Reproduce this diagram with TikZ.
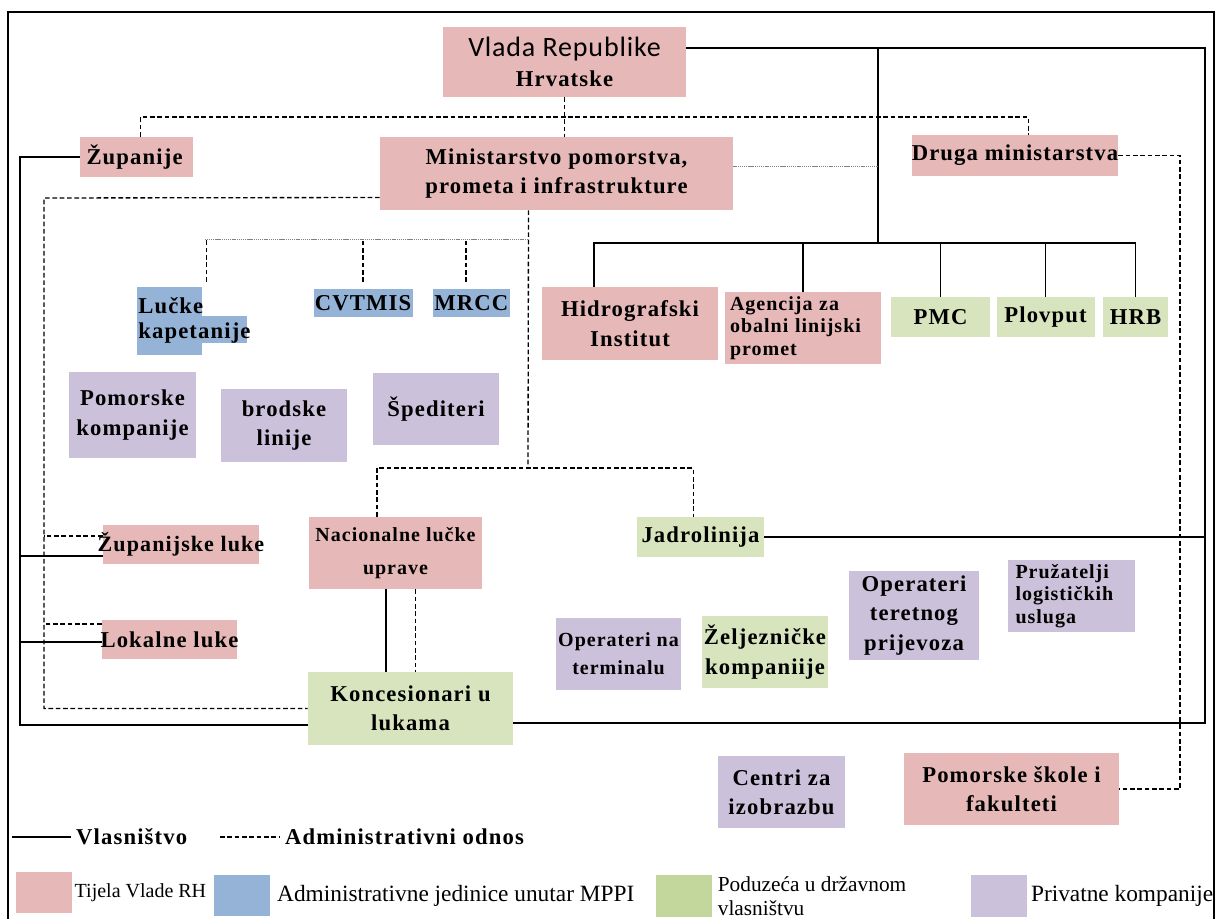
\documentclass[tikz,border=0pt]{standalone}
\usepackage{fontspec}
\setmainfont{Liberation Serif}[BoldFeatures={LetterSpace=5}]
\newfontfamily\vladaFont{Carlito}[LetterSpace=3]
\usetikzlibrary{positioning}

\definecolor{govPink}{HTML}{E6B9B8}
\definecolor{unitBlue}{HTML}{95B3D7}
\definecolor{stateGreen}{HTML}{D7E4BD}
\definecolor{legendGreen}{HTML}{C3D69B}
\definecolor{privatePurple}{HTML}{CCC1DA}

\begin{document}
\begin{tikzpicture}[x=0.75pt, y=-0.75pt, node distance = 4pt]
            % Set primary nodes
            \tikzset{
                boxSize/.style 2 args={
                        minimum width=#1*0.75pt,
                        minimum height=#2*0.75pt
                    }
            }
            \tikzset{
                govNode/.style={
                        rectangle,
                        fill=govPink,
                        inner sep=1pt,
                        align=center,
                        font=\fontsize{17}{22}\selectfont\bfseries
                    }
            }
            \tikzset{
                unitNode/.style={
                        rectangle,
                        fill=unitBlue,
                        inner sep=1pt,
                        align=center,
                        font=\fontsize{17}{22}\selectfont\bfseries
                    }
            }
            \tikzset{
                stateNode/.style={
                        rectangle,
                        fill=stateGreen,
                        inner sep=1pt,
                        align=center,
                        font=\fontsize{17}{22}\selectfont\bfseries
                    }
            }
            \tikzset{
                privateNode/.style={
                        rectangle,
                        fill=privatePurple,
                        inner sep=1pt,
                        align=center,
                        font=\fontsize{17}{22}\selectfont\bfseries
                    }
            }
            \tikzset{
                narrowText/.style={
                        font=\fontsize{15}{17}\selectfont\bfseries
                    }
            }
            \tikzset{
                legendNode/.style={
                        rectangle,
                        minimum width=42pt,
                        minimum height=31pt
                    }
            }
            \tikzset{
                legendText/.style={
                        inner sep=0pt,
                        align=left,
                        font=\fontsize{17.5}{18}\selectfont
                    }
            }
            % Configure lines
            \tikzstyle{ownLine} = [line width=1.2pt]
            \tikzstyle{adminLine} = [line width=1pt, dash pattern=on 3.5pt off 2pt]
            \tikzstyle{dotLine} = [line width=0.6pt, gray, dash pattern=on 1pt off 0.6pt]
            \useasboundingbox (0,0) rectangle (1219,919);
            \draw[line width=1.3pt] (8,12) rectangle (1214,935);
            % Placing nodes
            \node[govNode, boxSize={243}{70}](vlada) at (564.5,62){{\fontsize{21}{22}\selectfont\vladaFont\mdseries Vlada Republike}\\Hrvatske};
            \node[govNode, boxSize={113}{40}, text width=100*0.75pt, align=left](zupanije) at (136.5,157){Županije};
            \node[govNode, boxSize={353}{73}](mppi) at (556.5,173.5){Ministarstvo pomorstva,\\prometa i infrastrukture};
            \node[govNode, boxSize={206}{41}, inner xsep=-2pt](druga) at (1015,155.5){Druga ministarstva};
            \node[unitNode, boxSize={65}{68}](lucke) at (169.5,321){};
            \fill[unitBlue] ([yshift=3.75pt]lucke.east) rectangle ++(45,27);
            \node[anchor=north west, inner sep=0pt, align=left, font=\fontsize{17}{19}\selectfont\bfseries](luckeText) at ([xshift=1pt,yshift=-8pt]lucke.north west){Lučke\\kapetanije};
            \node[unitNode, boxSize={96}{28}](cvtmis) at (363,303){CVTMIS};
            \node[unitNode, boxSize={75}{28}, right = 15pt of cvtmis](mrcc){MRCC};
            \node[privateNode, boxSize={127}{86}](pomKomp) at (132.5,415){Pomorske\\kompanije};
            \node[privateNode, boxSize={126}{73}](brodske) at (284,425.5){brodske\\linije};
            \node[privateNode, boxSize={126}{72}](spediteri) at (436,409){Špediteri};
            \node[govNode, boxSize={176}{73}](hidro) at (630,323.5){Hidrografski\\Institut};
            \node[govNode, narrowText, boxSize={156}{72}, text width=146*0.75pt, align=left](agencija) at (803,328){Agencija za\\obalni linijski\\promet};
            \node[stateNode, boxSize={99}{40}](pmc) at (940.5,317){PMC};
            \node[stateNode, boxSize={98}{40}, right = 4.5pt of pmc](plovput){Plovput};
            \node[stateNode, boxSize={65}{40}, right = 6pt of plovput](hrb){HRB};
            \node[govNode, boxSize={156}{39}, inner xsep=-4pt, font=\fontsize{16.5}{22}\selectfont\bfseries](zupLuke) at (181,544.5){Županijske luke};
            \node[govNode, boxSize={135}{39}, inner xsep=-2pt](lokLuke) at (169.5,639.5){Lokalne luke};
            \node[govNode, narrowText, boxSize={173}{72}](nacionalne) at (395.5,553){Nacionalne lučke\\[8pt]uprave};
            \node[stateNode, boxSize={205}{73}](koncesionari) at (410.5,708.5){Koncesionari u\\lukama};
            \node[stateNode, boxSize={127}{40}](jadrolinija) at (700.5,537){Jadrolinija};
            \node[privateNode, narrowText, boxSize={125}{72}](opTerminal) at (618.5,654){Operateri na\\[4pt]terminalu};
            \node[stateNode, boxSize={126}{72}](zeljeznicke) at (765,652){Željezničke\\kompaniije};
            \node[privateNode, boxSize={130}{89}](opTeret) at (914,615.5){Operateri\\teretnog\\prijevoza};
            \node[privateNode, narrowText, boxSize={127}{72}, text width=112*0.75pt, align=left](pruzatelji) at (1071.5,596){Pružatelji\\logističkih\\usluga};
            \node[privateNode, boxSize={127}{72}](centri) at (781.5,792){Centri za\\izobrazbu};
            \node[govNode, boxSize={215}{72}](skole) at (1011.5,789){Pomorske škole i\\fakulteti};
            % Connection points
            \coordinate (adminBus) at (564.5,117);
            \coordinate (ownTop) at (878,48);
            \coordinate (ownRight) at (1205,723);
            \coordinate (agencyBus) at (878,243);
            \coordinate (adminRight) at (1180,400);
            \coordinate (adminLeft) at (44,198);
            \coordinate (ownLeft) at (20,725);
            \coordinate (portBus) at (528,468);
            \coordinate (unitBus) at (528,239);
            % Draw ownership lines
            \draw[ownLine]([yshift=10.5pt]vlada.east) -| (ownRight) -- (ownRight -| koncesionari.east);
            \draw[ownLine](jadrolinija.east) -- (jadrolinija.east -| ownRight);
            \draw[ownLine](ownTop) -- (agencyBus);
            \draw[ownLine]([xshift=-27pt]hidro.north) |- (hrb.north |- agencyBus) -- (hrb.north);
            \foreach \n in {agencija, pmc, plovput}{
                \draw[ownLine](\n.north) -- (\n.north |- agencyBus);
            }
            \draw[ownLine](zupanije.west) -| (ownLeft) -- (ownLeft -| koncesionari.west);
            \draw[ownLine]([yshift=-8.6pt]zupLuke.west) -- ++(-83,0);
            \draw[ownLine]([yshift=-1.9pt]lokLuke.west) -- ++(-82,0);
            \draw[ownLine]([xshift=-7pt]nacionalne.south) -- ++(0,83);
            % Draw administrative lines
            \draw[adminLine](vlada.south) -- (vlada.south |- mppi.north);
            \draw[adminLine]([xshift=3pt]zupanije.north) |- (adminBus) -| ([xshift=10pt]druga.north);
            \draw[dotLine]([yshift=5pt]mppi.east) -- ++(145,0);
            \draw[adminLine](druga.east) -| (adminRight) |- (skole.east);
            \draw[adminLine]([yshift=-18pt]mppi.west) -- (adminLeft) |- (koncesionari.west);
            \draw[adminLine]([yshift=6.4pt]zupLuke.west) -- ++(-59,0);
            \draw[adminLine]([yshift=11.6pt]lokLuke.west) -- ++(-58,0);
            \draw[adminLine]([xshift=-21pt]mppi.south) -- (portBus);
            \draw[adminLine]([xshift=-14pt]nacionalne.north) |- (portBus) -| ([xshift=-5.5pt]jadrolinija.north);
            \draw[adminLine]([xshift=15pt]nacionalne.south) -- ++(0,83);
            \draw[dotLine](unitBus) -- ++(-323,0);
            \draw[adminLine]([xshift=3pt,yshift=3.75pt]lucke.north east) -- ++(0,-43);
            \draw[adminLine]([yshift=5pt]cvtmis.north) -- (cvtmis.north |- unitBus);
            \draw[adminLine]([xshift=-4pt,yshift=5pt]mrcc.north) -- ++(0,-43);
            % Legend
            \coordinate (legOwn) at (12,837);
            \coordinate (legAdmin) at (220,837);
            \draw[ownLine](legOwn) -- ++(59,0) node[right, font=\fontsize{17}{20}\selectfont\bfseries](legOwnText){Vlasništvo};
            \draw[adminLine](legAdmin) -- ++(60,0) node[right, font=\fontsize{17}{20}\selectfont\bfseries](legAdminText){Administrativni odnos};
            \node[legendNode, fill=govPink](legGov) at (43.5,892.5){};
            \node[legendText, right = 2pt of legGov, font=\fontsize{15}{18}\selectfont](legGovText){Tijela Vlade RH};
            \node[legendNode, fill=unitBlue](legUnit) at (242,895.5){};
            \node[legendText, right = 5pt of legUnit](legUnitText){Administrativne jedinice unutar MPPI};
            \node[legendNode, fill=legendGreen](legState) at (684,896){};
            \node[legendText, right = 4pt of legState, font=\fontsize{16}{18}\selectfont](legStateText){Poduzeća u državnom\\vlasništvu};
            \node[legendNode, fill=privatePurple](legPrivate) at (998.5,896){};
            \node[legendText, right = 3pt of legPrivate](legPrivateText){Privatne kompanije};
        \end{tikzpicture}
\end{document}
